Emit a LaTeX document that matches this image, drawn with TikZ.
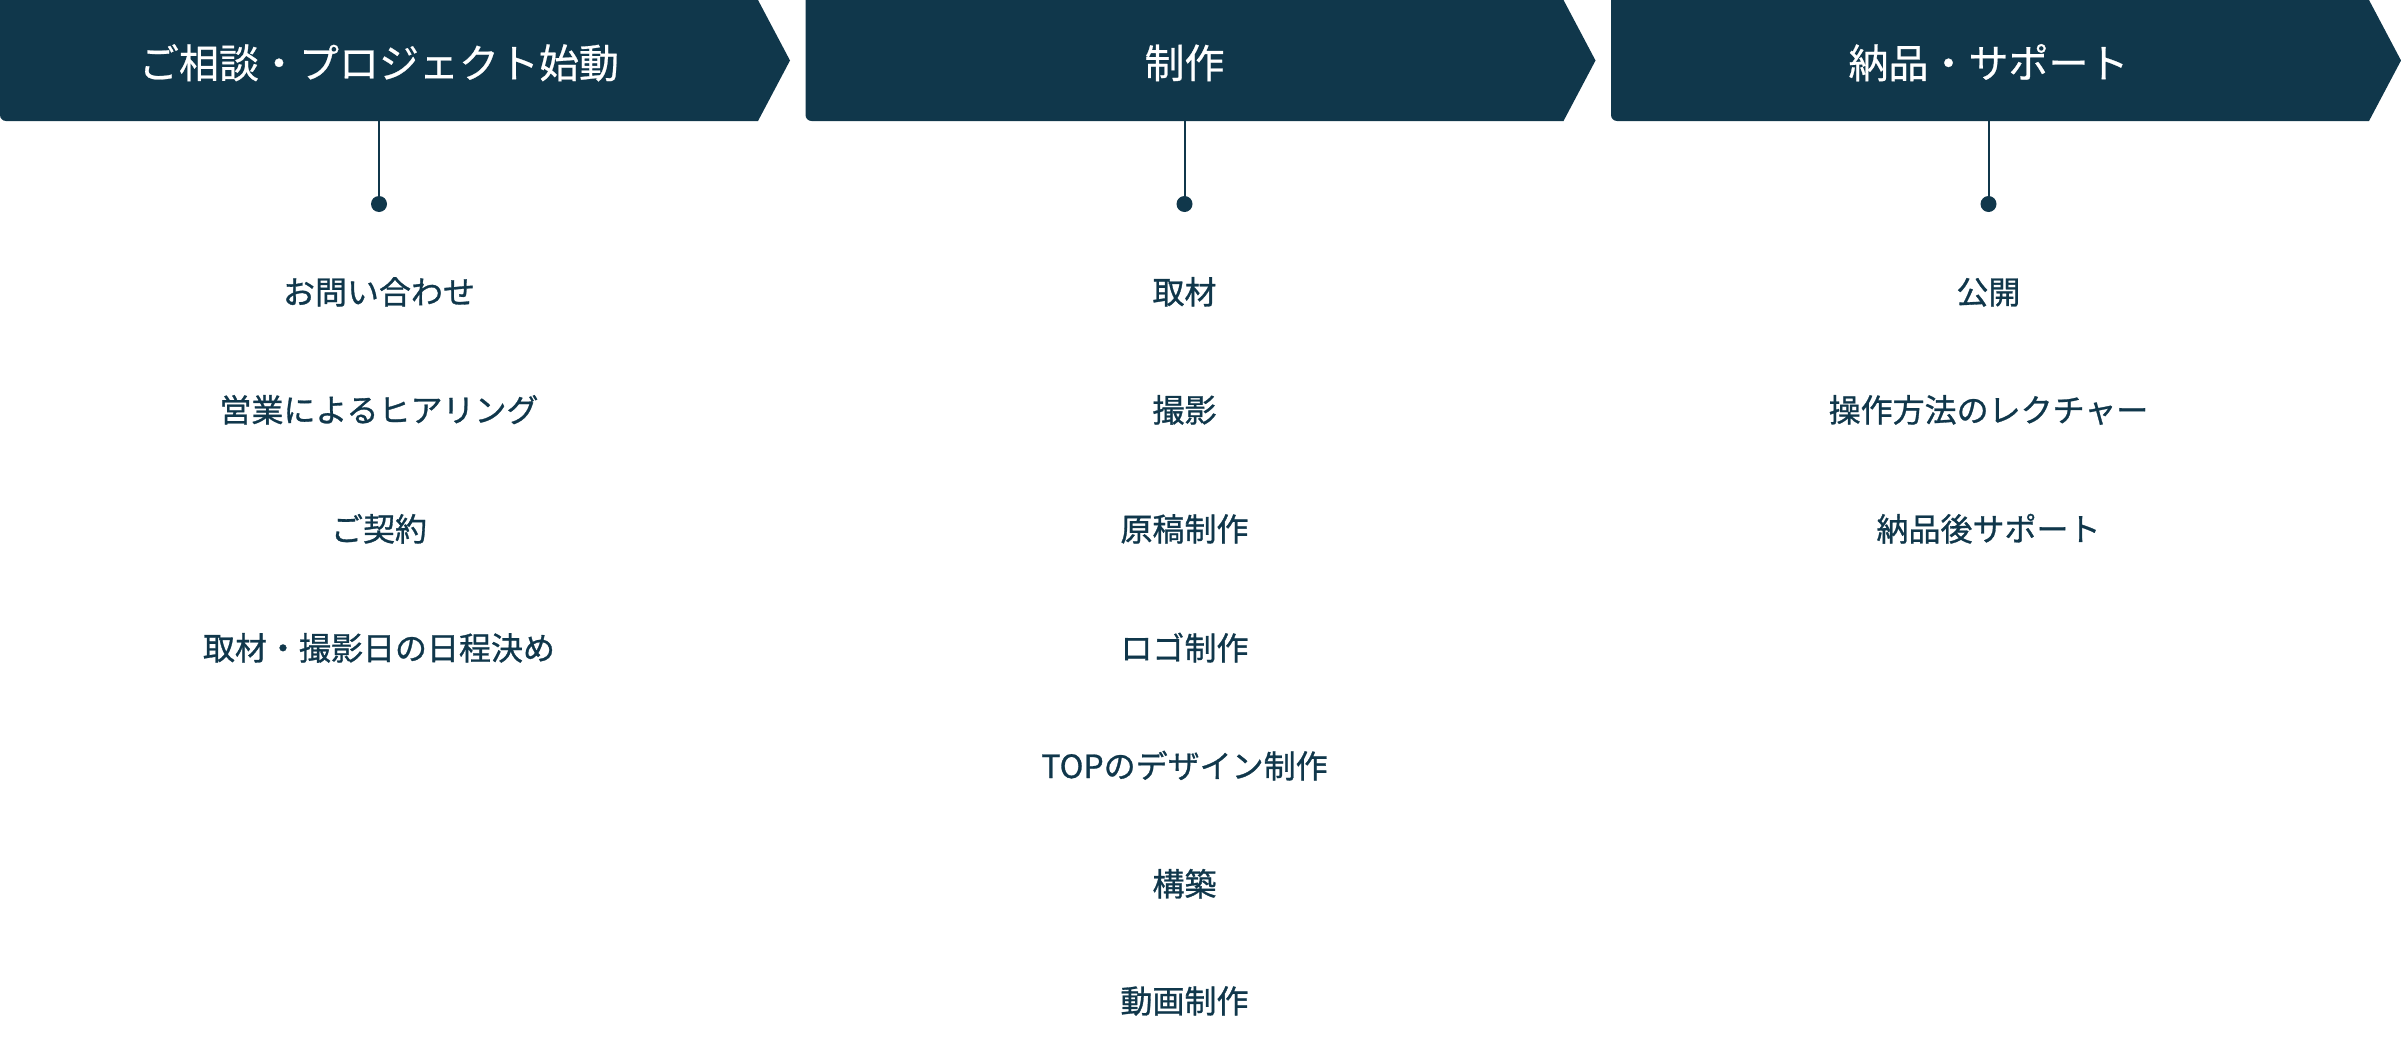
\documentclass[tikz,border=0pt]{standalone}
\usepackage{fontspec}
\setmainfont{Noto Sans CJK JP}
\newfontfamily\medfont[FakeBold=0.9]{Noto Sans CJK JP}
\newfontfamily\headfont[FakeBold=0.6]{Noto Sans CJK JP}
\definecolor{navy}{HTML}{10374B}
\tikzset{
  chevron/.style={fill=navy},
  headbox/.style={minimum width=758pt, minimum height=121pt, inner sep=0pt},
  headtext/.style={anchor=base, text=white, font=\headfont\fontsize{40pt}{48pt}\selectfont, inner sep=0pt},
  dotnode/.style={circle, fill=navy, minimum size=16pt, inner sep=0pt},
  link/.style={draw=navy, line width=2pt},
  item/.style={anchor=base, text=navy, font=\medfont\fontsize{32pt}{38pt}\selectfont, inner sep=0pt}
}
\begin{document}
\begin{tikzpicture}[x=1pt,y=-1pt]
\useasboundingbox (0,0) rectangle (2401,1052);
% chevrons
\foreach \x in {0,805.5,1611}{
  \fill[chevron] (\x+758,0) -- (\x+790,60.5) -- (\x+758,121) [rounded corners=6pt] -- (\x,121) -- (\x,-10) [sharp corners] -- cycle;
}
\node[headbox] (h1) at (379,60.5) {};
\node[headbox] (h2) at (1184.5,60.5) {};
\node[headbox] (h3) at (1988.5,60.5) {};
\node[headtext] (t1) at (379,78) {ご相談・プロジェクト始動};
\node[headtext] (t2) at (1184.5,78) {制作};
\node[headtext] (t3) at (1988.5,78) {納品・サポート};
% dots and connectors
\node[dotnode] (d1) at (379,204) {};
\node[dotnode] (d2) at (1184.5,204) {};
\node[dotnode] (d3) at (1988.5,204) {};
\draw[link] (h1.south) -- (d1.center);
\draw[link] (h2.south) -- (d2.center);
\draw[link] (h3.south) -- (d3.center);
% column 1
\node[item] (a1) at (379,304) {お問い合わせ};
\node[item] (a2) at (379,422) {営業によるヒアリング};
\node[item] (a3) at (379,541) {ご契約};
\node[item] (a4) at (379,660) {取材・撮影日の日程決め};
% column 2
\node[item] (b1) at (1184.5,304) {取材};
\node[item] (b2) at (1184.5,422) {撮影};
\node[item] (b3) at (1184.5,541) {原稿制作};
\node[item] (b4) at (1184.5,660) {ロゴ制作};
\node[item] (b5) at (1184.5,778) {TOPのデザイン制作};
\node[item] (b6) at (1184.5,896) {構築};
\node[item] (b7) at (1184.5,1013) {動画制作};
% column 3
\node[item] (c1) at (1988.5,304) {公開};
\node[item] (c2) at (1988.5,422) {操作方法のレクチャー};
\node[item] (c3) at (1988.5,541) {納品後サポート};
\end{tikzpicture}
\end{document}
